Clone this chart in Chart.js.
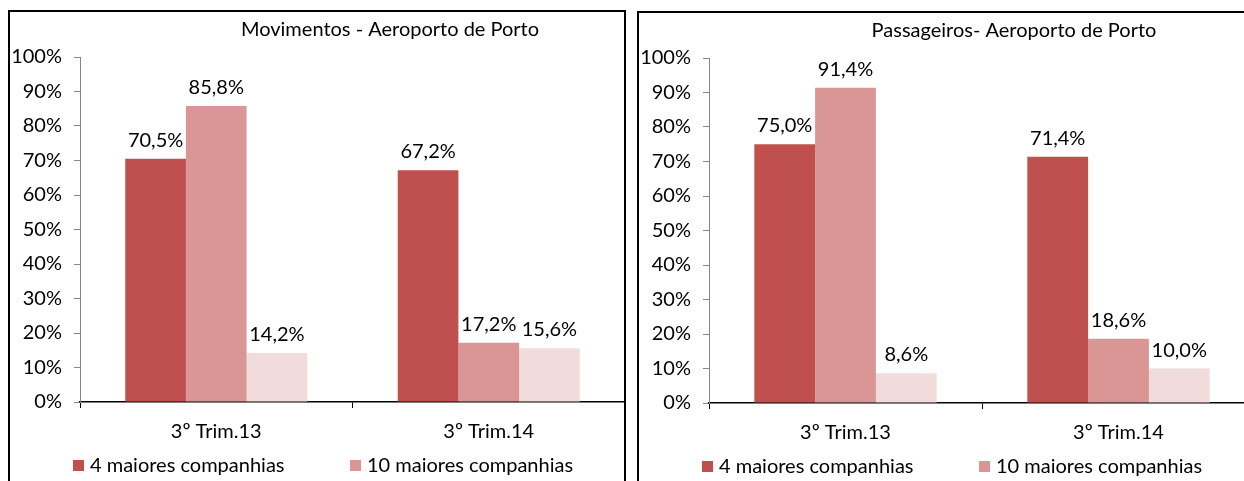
<!DOCTYPE html>
<html lang="pt">
  <head>
    <meta charset="UTF-8" />
    <title>Aeroporto de Porto</title>
    <script src="https://cdn.jsdelivr.net/npm/chart.js"></script>
    <style>
      body {
        margin: 0;
        background: #fff;
        width: 1244px;
        height: 481px;
        overflow: hidden;
        position: relative;
      }
      .panel {
        position: absolute;
        border: 2px solid #000;
        box-sizing: border-box;
        overflow: hidden;
        background: #fff;
      }
      #p1 { left: 8px; top: 10px; width: 618px; height: 520px; }
      #p2 { left: 637px; top: 11px; width: 700px; height: 520px; }
      canvas { position: absolute; left: 0; top: 0; }
    </style>
  </head>
  <body>
    <div class="panel" id="p1"><canvas id="movChart" width="760" height="480"></canvas></div>
    <div class="panel" id="p2"><canvas id="pasChart" width="750" height="480"></canvas></div>

    <script>
      // dados
      var categories = ["3º Trim.13", "3º Trim.14"];
      var seriesNames = ["4 maiores companhias", "10 maiores companhias", "Restantes companhias"];
      var seriesColors = ["#C0504D", "#D99694", "#F2DCDB"];

      var movTop4 = [70.5, 67.2];
      var movTop10 = [85.8, 17.2];
      var movOthers = [14.2, 15.6];

      var pasTop4 = [75.0, 71.4];
      var pasTop10 = [91.4, 18.6];
      var pasOthers = [8.6, 10.0];

      var yMax = 100;
      var yStep = 10;

      var FONT = "20px Lato, 'Open Sans', sans-serif";
      Chart.defaults.font.family = "Lato, 'Open Sans', sans-serif";
      Chart.defaults.font.size = 20;
      Chart.defaults.color = "#000";

      function fmt(v) {
        return v.toFixed(1).replace(".", ",") + "%";
      }

      // título centrado no gráfico inteiro (não só na área visível)
      var topTitle = {
        id: "topTitle",
        afterDraw: function (chart, args, opts) {
          var ctx = chart.ctx;
          ctx.save();
          ctx.font = FONT;
          ctx.fillStyle = "#000";
          ctx.textAlign = "center";
          ctx.textBaseline = "middle";
          ctx.fillText(opts.text, chart.width / 2, 18);
          ctx.restore();
        },
      };

      // rótulos por cima das barras
      var barLabels = {
        id: "barLabels",
        afterDatasetsDraw: function (chart) {
          var ctx = chart.ctx;
          ctx.save();
          ctx.font = FONT;
          ctx.fillStyle = "#000";
          ctx.textAlign = "center";
          ctx.textBaseline = "alphabetic";
          chart.data.datasets.forEach(function (ds, i) {
            chart.getDatasetMeta(i).data.forEach(function (bar, j) {
              ctx.fillText(fmt(ds.data[j]), bar.x, bar.y - 12);
            });
          });
          ctx.restore();
        },
      };

      // legenda em baixo (a terceira fica fora do quadro)
      var bottomLegend = {
        id: "bottomLegend",
        afterDraw: function (chart) {
          var ctx = chart.ctx;
          var area = chart.chartArea;
          var y = area.bottom + 64;
          ctx.save();
          ctx.font = FONT;
          ctx.textAlign = "left";
          ctx.textBaseline = "middle";
          chart.data.datasets.forEach(function (ds, i) {
            var x = area.left - 7 + i * 277;
            ctx.fillStyle = ds.backgroundColor;
            ctx.fillRect(x, y - 6, 11, 11);
            ctx.fillStyle = "#000";
            ctx.fillText(ds.label, x + 17, y);
          });
          ctx.restore();
        },
      };

      function makeChart(id, title, top4, top10, others, padRight) {
        var values = [top4, top10, others];
        new Chart(document.getElementById(id), {
          type: "bar",
          data: {
            labels: categories,
            datasets: values.map(function (d, i) {
              return {
                label: seriesNames[i],
                data: d,
                backgroundColor: seriesColors[i],
                borderWidth: 0,
              };
            }),
          },
          options: {
            responsive: false,
            animation: false,
            layout: { padding: { left: 0, right: padRight, top: 45, bottom: 48 } },
            datasets: { bar: { categoryPercentage: 0.668, barPercentage: 1 } },
            plugins: {
              legend: { display: false },
              tooltip: { enabled: false },
              title: { display: false },
              topTitle: { text: title },
            },
            scales: {
              x: {
                grid: { offset: true, drawOnChartArea: false, tickLength: 6, color: "#000" },
                border: { color: "#000", width: 1.5 },
                ticks: { color: "#000", padding: 12 },
                afterFit: function (s) { s.height = 42; },
              },
              y: {
                min: 0,
                max: yMax,
                ticks: {
                  stepSize: yStep,
                  padding: 12,
                  color: "#000",
                  callback: function (v) { return v + "%"; },
                },
                grid: { drawOnChartArea: false, tickLength: 6, color: "#868686" },
                border: { color: "#868686" },
                afterFit: function (s) { s.width = 70; },
              },
            },
          },
          plugins: [topTitle, barLabels, bottomLegend],
        });
      }

      makeChart("movChart", "Movimentos - Aeroporto de Porto", movTop4, movTop10, movOthers, 145);
      makeChart("pasChart", "Passageiros- Aeroporto de Porto", pasTop4, pasTop10, pasOthers, 134);
    </script>
  </body>
</html>
